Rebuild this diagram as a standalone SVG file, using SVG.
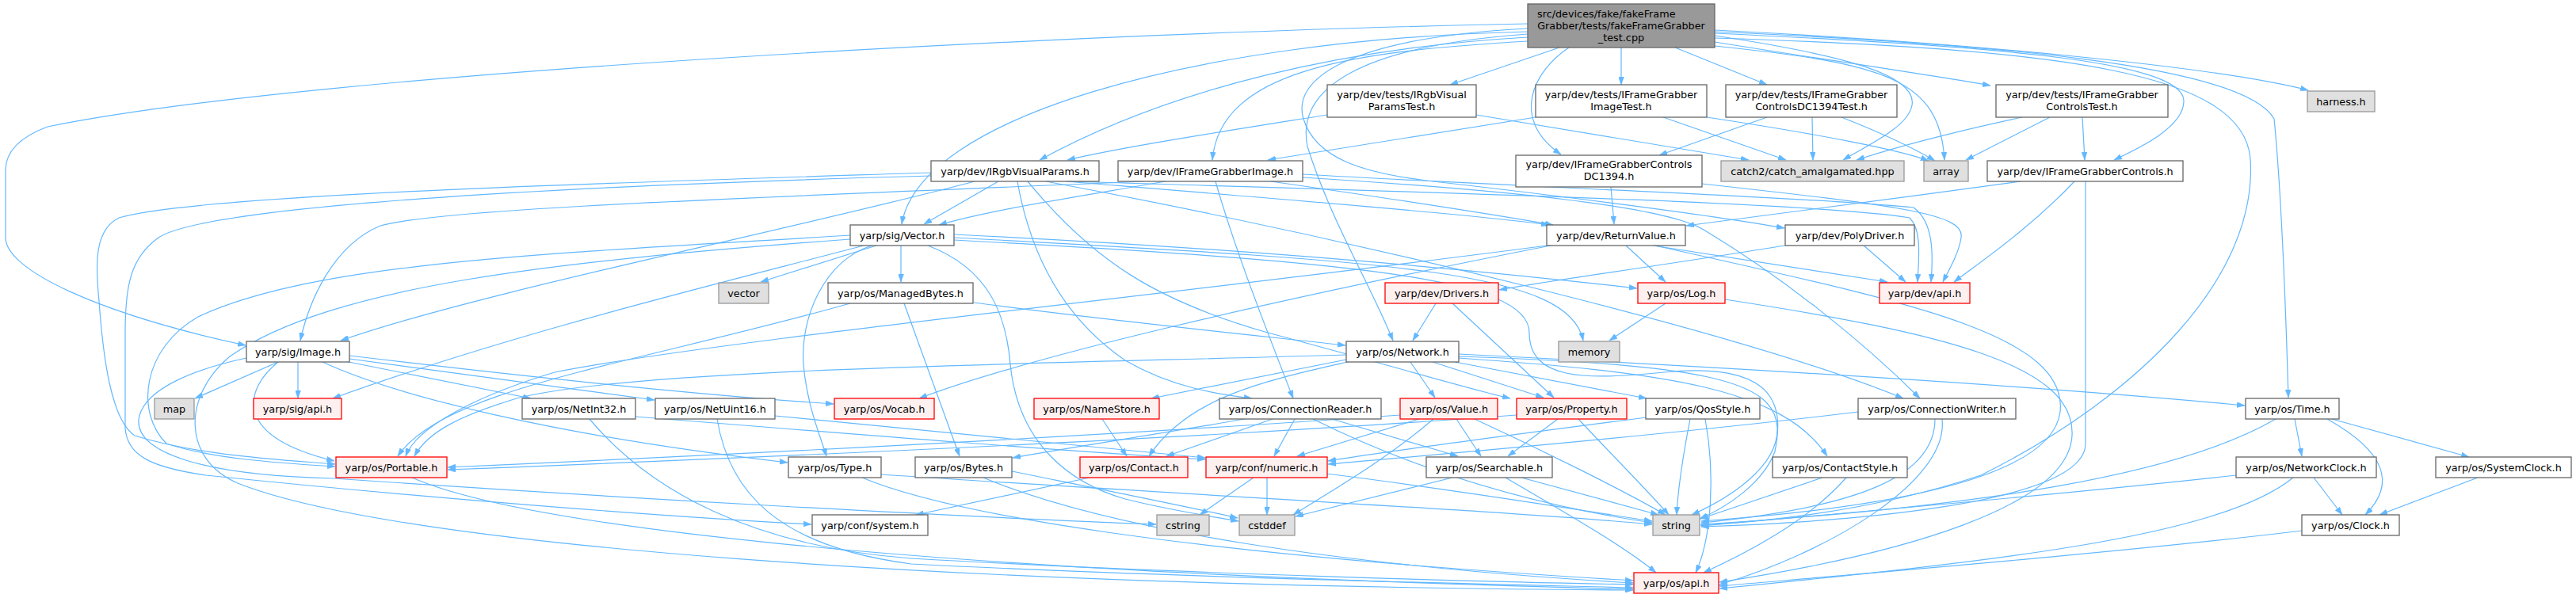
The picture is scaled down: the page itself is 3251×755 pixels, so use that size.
<svg xmlns="http://www.w3.org/2000/svg" width="3251" height="755" viewBox="0 0 3251 755">
<defs>
<marker id="arr" viewBox="0 0 10 7" markerWidth="10" markerHeight="7" markerUnits="userSpaceOnUse" refX="10" refY="3.5" orient="auto">
<path d="M0,0 L10,3.5 L0,7 z" fill="#63b8ff" stroke="#63b8ff" stroke-width="0.5"/>
</marker>
<style>
.e{fill:none;stroke:#63b8ff;stroke-width:1.2;marker-end:url(#arr)}
.n rect{fill:#ffffff;stroke:#666666;stroke-width:1.3}
.g rect{fill:#e0e0e0;stroke:#999999;stroke-width:1.3}
.r rect{fill:#fff0f0;stroke:#ff0000;stroke-width:1.3}
.root rect{fill:#999999;stroke:#666666;stroke-width:1.3}
text{font-family:"DejaVu Sans","Liberation Sans",sans-serif;font-size:12.8px;fill:#000000;text-anchor:middle}
</style>
</defs>
<rect width="3251" height="755" fill="#ffffff"/>
<g id="edges">
<path class="e" d="M1968,60 L1830,107"/>
<path class="e" d="M2046,60 L2046,107"/>
<path class="e" d="M2114,60 L2230,107"/>
<path class="e" d="M2164,53 C2300,75 2420,92 2512,108"/>
<path class="e" d="M2164,38 C2500,55 2800,85 2913,114"/>
<path class="e" d="M2164,45 C2330,70 2420,95 2413,133 C2408,160 2360,182 2326,202"/>
<path class="e" d="M2164,58 C2380,80 2448,100 2454,202"/>
<path class="e" d="M1980,60 C1935,90 1905,150 1970,195"/>
<path class="e" d="M2164,42 C2500,58 2755,75 2756,127 C2757,160 2700,187 2668,202"/>
<path class="e" d="M1928,47 C1700,60 1480,110 1312,202"/>
<path class="e" d="M1928,52 C1700,65 1540,90 1530,202"/>
<path class="e" d="M1928,40 C1500,50 1160,150 1138,283"/>
<path class="e" d="M1928,30 C1400,40 400,90 60,160 C20,175 7,195 7,215 L7,300 C7,340 120,395 310,436"/>
<path class="e" d="M1928,43 C1720,58 1635,110 1650,185 C1680,280 1730,360 1758,430"/>
<path class="e" d="M1928,36 C1700,48 1630,100 1645,150 C1660,200 1720,218 1800,228 C1950,245 2150,270 2252,288"/>
<path class="e" d="M2164,40 C2500,55 2830,80 2870,150 C2880,250 2885,400 2888,502"/>
<path class="e" d="M2164,48 C2600,62 2830,90 2840,200 C2850,350 2700,500 2500,600 C2350,650 2200,660 2146,663"/>
<path class="e" d="M1675,145 C1550,165 1420,185 1347,202"/>
<path class="e" d="M1863,145 L2207,202"/>
<path class="e" d="M1938,148 L1600,202"/>
<path class="e" d="M2099,148 L2254,202"/>
<path class="e" d="M2154,148 C2300,170 2400,190 2434,203"/>
<path class="e" d="M2230,148 L2094,196"/>
<path class="e" d="M2287,148 L2288,202"/>
<path class="e" d="M2324,148 C2380,170 2420,190 2442,203"/>
<path class="e" d="M2587,148 L2481,202"/>
<path class="e" d="M2628,148 L2631,202"/>
<path class="e" d="M2552,148 C2450,170 2380,190 2343,202"/>
<path class="e" d="M1260,229 L1166,283"/>
<path class="e" d="M1284,229 C1300,320 1340,400 1420,455 C1480,490 1540,498 1580,503"/>
<path class="e" d="M1297,229 C1380,330 1460,380 1600,420 C1750,460 1850,490 1906,503"/>
<path class="e" d="M1345,229 C1600,250 1850,270 1955,284"/>
<path class="e" d="M1320,229 C1700,300 2200,420 2402,503"/>
<path class="e" d="M1352,229 C1700,240 2300,255 2410,275 C2425,290 2422,320 2420,356"/>
<path class="e" d="M1175,218 C800,230 250,245 150,275 C120,290 120,330 125,380 C130,450 140,530 170,550 C250,575 350,580 423,586"/>
<path class="e" d="M1175,222 C700,235 260,260 200,300 C165,325 158,360 158,420 L158,540 C160,575 190,590 260,600 C500,625 800,650 1024,662"/>
<path class="e" d="M1230,229 C1000,290 600,370 430,430"/>
<path class="e" d="M1106,310 L960,356"/>
<path class="e" d="M1137,310 L1137,356"/>
<path class="e" d="M1100,310 C1040,330 1010,400 1014,460 C1018,510 1035,550 1043,576"/>
<path class="e" d="M1171,310 C1250,340 1270,400 1275,460 C1285,560 1350,610 1420,630 C1480,645 1530,652 1563,658"/>
<path class="e" d="M1090,310 C900,360 650,420 420,503"/>
<path class="e" d="M1073,297 C700,320 400,330 250,400 C180,440 170,520 210,560 C270,580 360,585 423,589"/>
<path class="e" d="M1073,302 C700,330 420,360 290,450 C230,500 230,580 300,610 C500,690 1200,740 2061,745"/>
<path class="e" d="M1204,296 C1600,315 1900,345 2066,364"/>
<path class="e" d="M1204,300 C1750,330 1980,340 1998,430"/>
<path class="e" d="M1204,303 C1700,330 1930,350 1930,420 C1930,480 2000,480 2100,470 C2250,455 2250,520 2240,570 C2225,610 2180,640 2145,655"/>
<path class="e" d="M351,457 L246,503"/>
<path class="e" d="M376,457 L376,503"/>
<path class="e" d="M351,457 C310,490 290,550 422,582"/>
<path class="e" d="M311,452 C250,465 180,490 175,530 C172,570 250,600 421,604 C800,630 1200,652 1459,662"/>
<path class="e" d="M435,456 L670,503"/>
<path class="e" d="M441,453 L826,505"/>
<path class="e" d="M441,449 C700,480 900,500 1052,510"/>
<path class="e" d="M407,457 C500,500 700,550 994,584"/>
<path class="e" d="M1141,383 L1211,576"/>
<path class="e" d="M1073,383 C800,460 560,490 502,576"/>
<path class="e" d="M1229,382 C1400,405 1600,425 1698,436"/>
<path class="e" d="M2052,310 L2102,356"/>
<path class="e" d="M2086,310 L2382,356"/>
<path class="e" d="M1960,309 C1500,370 900,430 700,470 C600,500 525,540 512,576"/>
<path class="e" d="M1962,309 C1600,380 1300,450 1160,503"/>
<path class="e" d="M2089,310 C2400,380 2610,420 2600,520 C2590,600 2400,640 2147,658"/>
<path class="e" d="M2033,236 L2037,283"/>
<path class="e" d="M2148,232 C2400,260 2480,270 2475,300 C2472,320 2460,340 2452,356"/>
<path class="e" d="M1471,229 C1350,250 1250,265 1185,284"/>
<path class="e" d="M1443,229 C1000,248 560,262 480,285 C420,310 390,380 379,430"/>
<path class="e" d="M1534,229 C1560,320 1600,420 1632,503"/>
<path class="e" d="M1604,229 C1750,250 1880,270 1960,284"/>
<path class="e" d="M1644,224 C1900,240 2100,260 2150,290 C2250,350 2350,430 2423,503"/>
<path class="e" d="M1644,220 C1900,235 2300,250 2415,262 C2440,280 2440,320 2437,356"/>
<path class="e" d="M2550,229 C2400,250 2200,275 2128,285"/>
<path class="e" d="M2618,229 C2560,290 2500,330 2466,356"/>
<path class="e" d="M2632,229 L2632,560 C2632,640 2300,660 2147,665"/>
<path class="e" d="M2258,309 C2100,335 1950,355 1892,366"/>
<path class="e" d="M2351,309 L2405,356"/>
<path class="e" d="M1812,383 L1783,430"/>
<path class="e" d="M1833,383 L1961,502"/>
<path class="e" d="M2102,383 L2031,430"/>
<path class="e" d="M2177,378 C2450,420 2620,460 2615,550 C2610,640 2400,700 2170,735"/>
<path class="e" d="M1699,454 L1453,503"/>
<path class="e" d="M1705,456 C1600,480 1500,500 1450,576"/>
<path class="e" d="M1699,448 C1300,460 800,465 652,503 C580,525 540,545 523,576"/>
<path class="e" d="M1780,457 L1811,502"/>
<path class="e" d="M1808,457 L1948,502"/>
<path class="e" d="M1836,457 L2078,503"/>
<path class="e" d="M1841,452 C2100,470 2250,490 2306,576"/>
<path class="e" d="M1841,447 C2300,470 2600,490 2833,512"/>
<path class="e" d="M1841,450 C2150,460 2240,480 2243,540 C2245,590 2180,630 2135,650"/>
<path class="e" d="M744,529 C820,620 950,690 1150,705 C1500,725 1900,735 2061,738"/>
<path class="e" d="M802,526 C1100,550 1350,570 1521,580"/>
<path class="e" d="M905,529 C920,620 980,690 1150,712 C1500,730 1900,738 2061,742"/>
<path class="e" d="M978,525 L1521,578"/>
<path class="e" d="M1391,529 L1422,576"/>
<path class="e" d="M1571,529 C1450,550 1350,565 1278,578"/>
<path class="e" d="M1606,529 L1472,576"/>
<path class="e" d="M1634,529 L1608,576"/>
<path class="e" d="M1657,529 C1800,600 1950,640 2085,660"/>
<path class="e" d="M1681,529 L1840,576"/>
<path class="e" d="M1791,529 L1637,576"/>
<path class="e" d="M1809,529 C1750,580 1680,620 1632,650"/>
<path class="e" d="M1838,529 L1869,576"/>
<path class="e" d="M1861,529 C1950,570 2050,620 2102,650"/>
<path class="e" d="M1767,524 C1400,550 900,575 565,590"/>
<path class="e" d="M1966,529 L1903,576"/>
<path class="e" d="M1992,529 C2030,570 2080,620 2106,650"/>
<path class="e" d="M1914,524 C1500,555 900,580 565,593"/>
<path class="e" d="M2078,527 C1900,550 1750,570 1676,582"/>
<path class="e" d="M2133,529 C2125,570 2118,610 2116,650"/>
<path class="e" d="M2152,529 C2165,600 2160,680 2140,723"/>
<path class="e" d="M2300,603 L2146,655"/>
<path class="e" d="M2330,603 C2280,660 2200,700 2150,723"/>
<path class="e" d="M2345,520 C2100,550 1800,575 1676,586"/>
<path class="e" d="M2442,529 C2442,600 2350,640 2147,660"/>
<path class="e" d="M2451,529 C2460,610 2300,700 2170,738"/>
<path class="e" d="M1375,603 L1156,650"/>
<path class="e" d="M1582,603 L1514,650"/>
<path class="e" d="M1599,603 L1599,650"/>
<path class="e" d="M1674,598 C1850,620 2000,645 2085,658"/>
<path class="e" d="M1833,603 L1635,652"/>
<path class="e" d="M1920,603 L2093,650"/>
<path class="e" d="M1900,603 C1980,650 2050,690 2090,723"/>
<path class="e" d="M1112,599 C1500,625 1900,645 2085,662"/>
<path class="e" d="M1088,603 C1200,650 1500,700 2061,733"/>
<path class="e" d="M1277,595 C1400,620 1500,640 1562,654"/>
<path class="e" d="M1241,603 C1400,670 1700,715 2061,736"/>
<path class="e" d="M520,603 C650,660 1100,720 2061,744"/>
<path class="e" d="M2896,529 L2905,576"/>
<path class="e" d="M2937,529 C3010,570 3025,610 2985,650"/>
<path class="e" d="M2943,529 L3116,577"/>
<path class="e" d="M2872,529 C2750,600 2500,640 2147,662"/>
<path class="e" d="M2822,600 C2600,625 2300,650 2147,664"/>
<path class="e" d="M2894,603 C2800,680 2500,710 2170,743"/>
<path class="e" d="M2920,603 L2956,650"/>
<path class="e" d="M3127,603 L3003,650"/>
<path class="e" d="M2905,670 C2700,695 2400,720 2170,740"/>
</g>
<g id="nodes">
<g id="node-root" class="root"><rect x="1928" y="5" width="236" height="55"/><text x="1940" y="21.5" style="text-anchor:start">src/devices/fake/fakeFrame</text><text x="2046" y="36.5">Grabber/tests/fakeFrameGrabber</text><text x="2046" y="51.5">_test.cpp</text></g>
<g id="node-IRgbVisualParamsTest" class="n"><rect x="1675" y="107" width="188" height="41"/><text x="1769" y="124">yarp/dev/tests/IRgbVisual</text><text x="1769" y="139">ParamsTest.h</text></g>
<g id="node-IFrameGrabberImageTest" class="n"><rect x="1938" y="107" width="216" height="41"/><text x="2046" y="124">yarp/dev/tests/IFrameGrabber</text><text x="2046" y="139">ImageTest.h</text></g>
<g id="node-IFrameGrabberControlsDC1394Test" class="n"><rect x="2178" y="107" width="216" height="41"/><text x="2286" y="124">yarp/dev/tests/IFrameGrabber</text><text x="2286" y="139">ControlsDC1394Test.h</text></g>
<g id="node-IFrameGrabberControlsTest" class="n"><rect x="2519" y="107" width="217" height="41"/><text x="2627.5" y="124">yarp/dev/tests/IFrameGrabber</text><text x="2627.5" y="139">ControlsTest.h</text></g>
<g id="node-harness" class="g"><rect x="2912" y="115" width="85" height="26"/><text x="2954.5" y="132.5">harness.h</text></g>
<g id="node-IRgbVisualParams" class="n"><rect x="1175" y="203" width="212" height="26"/><text x="1281" y="220.5">yarp/dev/IRgbVisualParams.h</text></g>
<g id="node-IFrameGrabberImage" class="n"><rect x="1411" y="203" width="233" height="26"/><text x="1527.5" y="220.5">yarp/dev/IFrameGrabberImage.h</text></g>
<g id="node-IFrameGrabberControlsDC1394" class="n"><rect x="1913" y="196" width="235" height="40"/><text x="2030.5" y="212">yarp/dev/IFrameGrabberControls</text><text x="2030.5" y="227">DC1394.h</text></g>
<g id="node-catch2" class="g"><rect x="2172" y="203" width="231" height="26"/><text x="2287.5" y="220.5">catch2/catch_amalgamated.hpp</text></g>
<g id="node-array" class="g"><rect x="2428" y="203" width="56" height="26"/><text x="2456" y="220.5">array</text></g>
<g id="node-IFrameGrabberControls" class="n"><rect x="2508" y="203" width="247" height="26"/><text x="2631.5" y="220.5">yarp/dev/IFrameGrabberControls.h</text></g>
<g id="node-Vector" class="n"><rect x="1073" y="284" width="131" height="26"/><text x="1138.5" y="301.5">yarp/sig/Vector.h</text></g>
<g id="node-ReturnValue" class="n"><rect x="1952" y="284" width="175" height="26"/><text x="2039.5" y="301.5">yarp/dev/ReturnValue.h</text></g>
<g id="node-PolyDriver" class="n"><rect x="2253" y="284" width="163" height="26"/><text x="2334.5" y="301.5">yarp/dev/PolyDriver.h</text></g>
<g id="node-vector" class="g"><rect x="907" y="357" width="63" height="26"/><text x="938.5" y="374.5">vector</text></g>
<g id="node-ManagedBytes" class="n"><rect x="1045" y="357" width="183" height="26"/><text x="1136.5" y="374.5">yarp/os/ManagedBytes.h</text></g>
<g id="node-Drivers" class="r"><rect x="1748" y="357" width="143" height="26"/><text x="1819.5" y="374.5">yarp/dev/Drivers.h</text></g>
<g id="node-Log" class="r"><rect x="2067" y="357" width="110" height="26"/><text x="2122" y="374.5">yarp/os/Log.h</text></g>
<g id="node-devapi" class="r"><rect x="2372" y="357" width="114" height="26"/><text x="2429" y="374.5">yarp/dev/api.h</text></g>
<g id="node-Image" class="n"><rect x="311" y="431" width="130" height="26"/><text x="376" y="448.5">yarp/sig/Image.h</text></g>
<g id="node-Network" class="n"><rect x="1699" y="431" width="142" height="26"/><text x="1770" y="448.5">yarp/os/Network.h</text></g>
<g id="node-memory" class="g"><rect x="1967" y="431" width="77" height="26"/><text x="2005.5" y="448.5">memory</text></g>
<g id="node-map" class="g"><rect x="195" y="503" width="50" height="26"/><text x="220" y="520.5">map</text></g>
<g id="node-sigapi" class="r"><rect x="320" y="503" width="111" height="26"/><text x="375.5" y="520.5">yarp/sig/api.h</text></g>
<g id="node-NetInt32" class="n"><rect x="659" y="503" width="143" height="26"/><text x="730.5" y="520.5">yarp/os/NetInt32.h</text></g>
<g id="node-NetUint16" class="n"><rect x="827" y="503" width="151" height="26"/><text x="902.5" y="520.5">yarp/os/NetUint16.h</text></g>
<g id="node-Vocab" class="r"><rect x="1053" y="503" width="126" height="26"/><text x="1116" y="520.5">yarp/os/Vocab.h</text></g>
<g id="node-NameStore" class="r"><rect x="1305" y="503" width="158" height="26"/><text x="1384" y="520.5">yarp/os/NameStore.h</text></g>
<g id="node-ConnectionReader" class="n"><rect x="1539" y="503" width="204" height="26"/><text x="1641" y="520.5">yarp/os/ConnectionReader.h</text></g>
<g id="node-Value" class="r"><rect x="1767" y="503" width="123" height="26"/><text x="1828.5" y="520.5">yarp/os/Value.h</text></g>
<g id="node-Property" class="r"><rect x="1914" y="503" width="139" height="26"/><text x="1983.5" y="520.5">yarp/os/Property.h</text></g>
<g id="node-QosStyle" class="n"><rect x="2077" y="503" width="144" height="26"/><text x="2149" y="520.5">yarp/os/QosStyle.h</text></g>
<g id="node-ConnectionWriter" class="n"><rect x="2345" y="503" width="199" height="26"/><text x="2444.5" y="520.5">yarp/os/ConnectionWriter.h</text></g>
<g id="node-Time" class="n"><rect x="2834" y="503" width="118" height="26"/><text x="2893" y="520.5">yarp/os/Time.h</text></g>
<g id="node-Portable" class="r"><rect x="424" y="577" width="140" height="26"/><text x="494" y="594.5">yarp/os/Portable.h</text></g>
<g id="node-Type" class="n"><rect x="995" y="577" width="117" height="26"/><text x="1053.5" y="594.5">yarp/os/Type.h</text></g>
<g id="node-Bytes" class="n"><rect x="1155" y="577" width="122" height="26"/><text x="1216" y="594.5">yarp/os/Bytes.h</text></g>
<g id="node-Contact" class="r"><rect x="1363" y="577" width="136" height="26"/><text x="1431" y="594.5">yarp/os/Contact.h</text></g>
<g id="node-numeric" class="r"><rect x="1522" y="577" width="153" height="26"/><text x="1598.5" y="594.5">yarp/conf/numeric.h</text></g>
<g id="node-Searchable" class="n"><rect x="1800" y="577" width="159" height="26"/><text x="1879.5" y="594.5">yarp/os/Searchable.h</text></g>
<g id="node-ContactStyle" class="n"><rect x="2237" y="577" width="170" height="26"/><text x="2322" y="594.5">yarp/os/ContactStyle.h</text></g>
<g id="node-NetworkClock" class="n"><rect x="2822" y="577" width="177" height="26"/><text x="2910.5" y="594.5">yarp/os/NetworkClock.h</text></g>
<g id="node-SystemClock" class="n"><rect x="3074" y="577" width="171" height="26"/><text x="3159.5" y="594.5">yarp/os/SystemClock.h</text></g>
<g id="node-confsystem" class="n"><rect x="1025" y="650" width="146" height="26"/><text x="1098" y="667.5">yarp/conf/system.h</text></g>
<g id="node-cstring" class="g"><rect x="1460" y="650" width="66" height="26"/><text x="1493" y="667.5">cstring</text></g>
<g id="node-cstddef" class="g"><rect x="1564" y="650" width="70" height="26"/><text x="1599" y="667.5">cstddef</text></g>
<g id="node-string" class="g"><rect x="2086" y="650" width="59" height="26"/><text x="2115.5" y="667.5">string</text></g>
<g id="node-Clock" class="n"><rect x="2905" y="650" width="123" height="26"/><text x="2966.5" y="667.5">yarp/os/Clock.h</text></g>
<g id="node-osapi" class="r"><rect x="2062" y="723" width="107" height="26"/><text x="2115.5" y="740.5">yarp/os/api.h</text></g>
</g>
</svg>
